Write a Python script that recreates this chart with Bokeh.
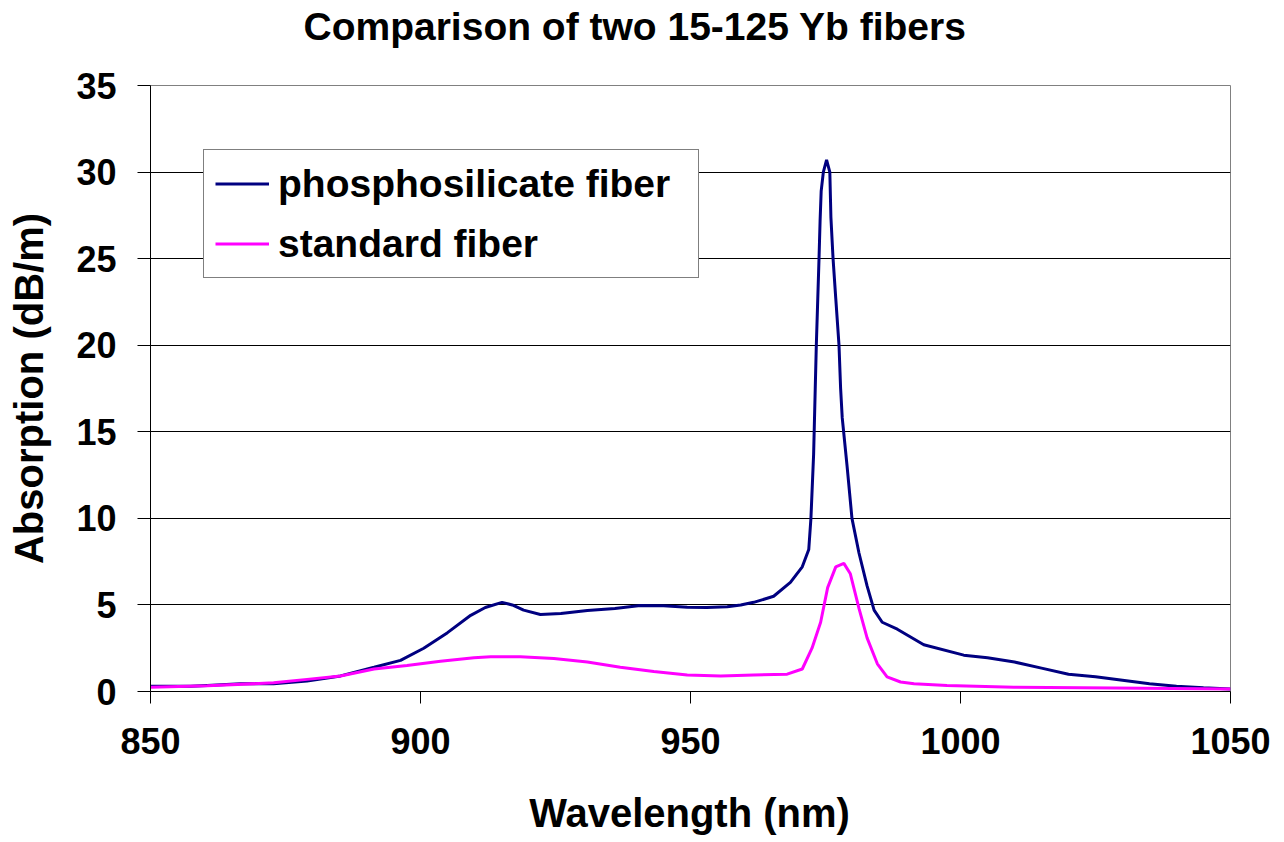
from bokeh.plotting import figure
from bokeh.models import Legend, LegendItem, FixedTicker, Range1d, Label
from bokeh.embed import file_html
from bokeh.resources import INLINE

# ---- data ----
phos_nm = [850, 855, 857.4, 860.5, 866.7, 872.8, 879, 885.2, 891.4, 896.3, 900.6, 905, 909.3, 912,
           915.1, 917, 919.1, 922.2, 926, 930.9, 936, 940.7, 945, 949.4, 953, 956.8, 959.3, 961.7,
           965.4, 968.5, 970.7, 971.9, 972.3, 972.8, 973.1, 973.3, 973.5, 973.8, 974.0, 974.2, 974.6,
           975.2, 975.8, 976.0, 976.4, 976.9, 977.5, 977.8, 978.1, 979.0, 979.9, 981.2, 982.7, 984.0,
           985.5, 988.3, 993.2, 1000.6, 1005, 1010, 1015, 1020, 1025, 1030, 1035, 1040, 1045, 1050]
phos_abs = [0.3, 0.3, 0.3, 0.35, 0.45, 0.45, 0.6, 0.9, 1.4, 1.8, 2.5, 3.4, 4.4, 4.85,
            5.15, 5.0, 4.7, 4.45, 4.5, 4.68, 4.8, 4.97, 4.95, 4.87, 4.85, 4.9, 5.0, 5.15,
            5.5, 6.3, 7.2, 8.2, 10, 13.7, 17.5, 20, 22, 25, 27.2, 28.9, 30,
            30.7, 30, 27.4, 25, 22.7, 20, 17.5, 15.8, 13, 10, 8, 6.1, 4.7,
            4.0, 3.6, 2.7, 2.1, 1.95, 1.7, 1.35, 1.0, 0.85, 0.65, 0.45, 0.3, 0.22, 0.15]

std_nm = [850, 860.5, 872.8, 879, 885.2, 891.4, 897.5, 903.7, 909.9, 913, 918.5, 924.7, 930.9, 937,
          943.2, 949.4, 955.6, 961.7, 967.9, 970.7, 972.5, 974.1, 975.4, 976.9, 978.4, 979.6, 981.2,
          982.7, 984.6, 986.4, 988.9, 991.4, 997.5, 1009.9, 1028.4, 1050]
std_abs = [0.25, 0.33, 0.5, 0.7, 0.9, 1.3, 1.5, 1.75, 1.95, 2.0, 2.0, 1.9, 1.7, 1.4,
           1.15, 0.95, 0.9, 0.95, 1.0, 1.3, 2.5, 4.0, 6.0, 7.2, 7.4, 6.8, 4.8,
           3.1, 1.6, 0.85, 0.55, 0.45, 0.35, 0.25, 0.2, 0.15]

x_ticks = [850, 900, 950, 1000, 1050]
y_ticks = [0, 5, 10, 15, 20, 25, 30, 35]

title_text = "Comparison of two 15-125 Yb fibers"
x_label = "Wavelength (nm)"
y_label = "Absorption (dB/m)"
series_names = ["phosphosilicate fiber", "standard fiber"]

FONT = "Liberation Sans"

p = figure(width=1276, height=840, output_backend="svg", toolbar_location=None,
           x_range=Range1d(850, 1050), y_range=Range1d(0, 35),
           min_border_left=150, min_border_right=46, min_border_top=85, min_border_bottom=149)

p.title.visible = False

title_label = Label(x=153, y=59, x_units="screen", y_units="screen", text=title_text,
                    text_font=FONT, text_font_size="39px", text_font_style="bold",
                    text_color="black", text_align="left", text_baseline="alphabetic")
p.add_layout(title_label, "above")

xlabel_label = Label(x=539, y=-12, x_units="screen", y_units="screen", text=x_label,
                     text_font=FONT, text_font_size="40px", text_font_style="bold",
                     text_color="black", text_align="center", text_baseline="alphabetic")
p.add_layout(xlabel_label, "below")

p.outline_line_color = "#808080"
p.outline_line_width = 1
p.background_fill_color = "white"
p.border_fill_color = "white"

# grids
p.xgrid.visible = False
p.ygrid.grid_line_color = "#000000"
p.ygrid.grid_line_width = 1
p.ygrid.ticker = FixedTicker(ticks=y_ticks)

for ax in (p.xaxis[0], p.yaxis[0]):
    ax.axis_line_color = "black"
    ax.axis_line_width = 1
    ax.major_tick_line_color = "black"
    ax.major_tick_in = 0
    ax.minor_tick_line_color = None
    ax.major_label_text_font = FONT
    ax.major_label_text_font_style = "bold"
    ax.major_label_text_font_size = "36px"
    ax.major_label_text_color = "black"
    ax.axis_label_text_font = FONT
    ax.axis_label_text_font_style = "bold"
    ax.axis_label_text_font_size = "40px"
    ax.axis_label_text_color = "black"

p.xaxis.ticker = FixedTicker(ticks=x_ticks)
p.yaxis.ticker = FixedTicker(ticks=y_ticks)
p.xaxis.major_tick_out = 12
p.yaxis.major_tick_out = 13
p.xaxis.major_label_standoff = 24
p.yaxis.major_label_standoff = 21
p.yaxis.axis_label = y_label
p.yaxis.axis_label_standoff = 22

r1 = p.line(phos_nm, phos_abs, line_color="#000080", line_width=3)
r2 = p.line(std_nm, std_abs, line_color="#FF00FF", line_width=3)

legend = Legend(items=[LegendItem(label=series_names[0], renderers=[r1]),
                       LegendItem(label=series_names[1], renderers=[r2])],
                location=(53, 413))
legend.label_text_font = FONT
legend.label_text_font_style = "bold"
legend.label_text_font_size = "39px"
legend.label_text_color = "black"
legend.border_line_color = "black"
legend.border_line_width = 1
legend.background_fill_color = "white"
legend.background_fill_alpha = 1
legend.padding = 11
legend.spacing = 15
legend.margin = 0
legend.glyph_width = 54
legend.glyph_height = 45
legend.label_height = 45
legend.label_standoff = 9
legend.label_width = 409
p.add_layout(legend, "center")

open("out.html", "w").write(file_html(p, INLINE))
